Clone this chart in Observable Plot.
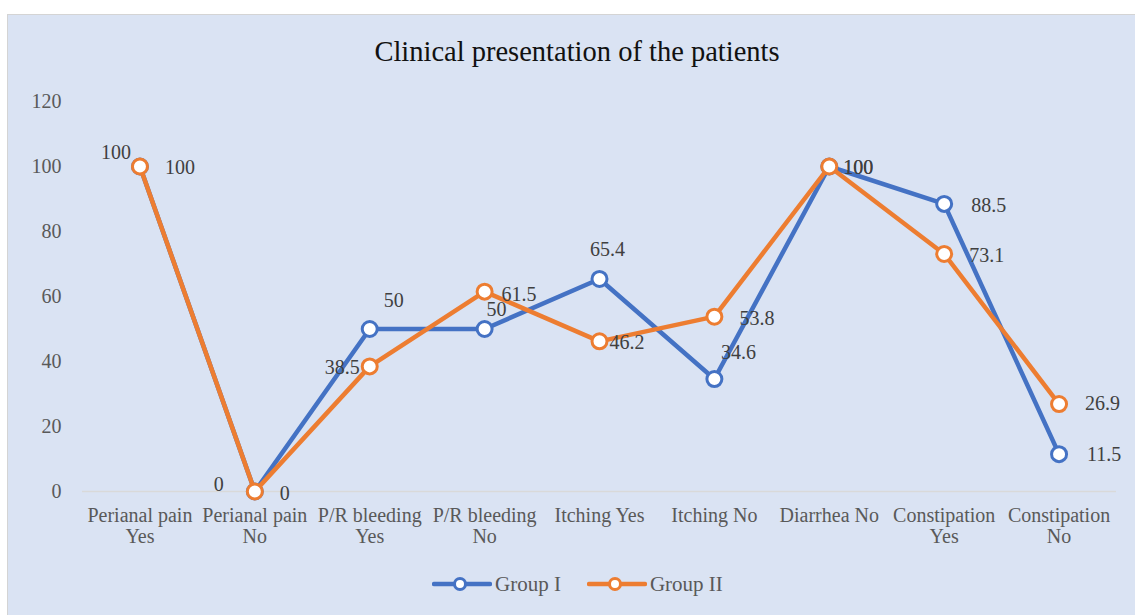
<!DOCTYPE html>
<html>
<head>
<meta charset="utf-8">
<script src="https://cdn.jsdelivr.net/npm/d3@7"></script>
<script src="https://cdn.jsdelivr.net/npm/@observablehq/plot@0.6"></script>
<style>
  html, body { margin: 0; padding: 0; background: #ffffff; width: 1135px; height: 615px; overflow: hidden; }
  body { position: relative; font-family: "Liberation Serif", "Times New Roman", serif; }
  #frame { position: absolute; left: 7px; top: 14px; width: 1140px; height: 620px; background: #dae3f3; border: 1px solid #d4d4d4; box-sizing: border-box; }
  #title { position: absolute; left: 0; width: 1154px; top: 36px; text-align: center; font-size: 28.5px; line-height: 32px; color: #111; }
  #chart { position: absolute; left: 0; top: 0; }
  #legend { position: absolute; left: 432px; top: 573px; display: flex; align-items: center; font-size: 21px; line-height: 22px; color: #595959; }
  .item { display: flex; align-items: center; margin-right: 26px; }
  .item svg { margin-right: 3px; }
</style>
</head>
<body>
<div id="frame"></div>
<div id="title">Clinical presentation of the patients</div>
<div id="chart"></div>
<div id="legend"></div>
<script>
const categories = ["Perianal pain Yes", "Perianal pain No", "P/R bleeding Yes", "P/R bleeding No", "Itching Yes", "Itching No", "Diarrhea No", "Constipation Yes", "Constipation No"];
const tickLabels = ["Perianal pain\nYes", "Perianal pain\nNo", "P/R bleeding\nYes", "P/R bleeding\nNo", "Itching Yes", "Itching No", "Diarrhea No", "Constipation\nYes", "Constipation\nNo"];
const seriesNames = ["Group I", "Group II"];
const group1 = [100, 0, 50, 50, 65.4, 34.6, 100, 88.5, 11.5];
const group2 = [100, 0, 38.5, 61.5, 46.2, 53.8, 100, 73.1, 26.9];
const yTicks = [0, 20, 40, 60, 80, 100, 120];
const colors = ["#4472c4", "#ed7d31"];

// label placement (dx, dy, anchor) per point, mimicking the source chart
const g1Place = [[-24,-14,"middle"],[-36,-7,"middle"],[24,-28,"middle"],[12,-19,"middle"],[8,-29,"middle"],[24,-26,"middle"],[14,1,"start"],[27,2,"start"],[28,0,"start"]];
const g2Place = [[25,1,"start"],[25,2,"start"],[-10,1,"end"],[17,3,"start"],[10,1,"start"],[25,2,"start"],[14,1,"start"],[25,2,"start"],[26,0,"start"]];

const rows = [];
[group1, group2].forEach((vals, s) => vals.forEach((v, i) => rows.push({series: seriesNames[s], cat: categories[i], value: v, idx: i})));
const tickMap = new Map(categories.map((c, i) => [c, tickLabels[i]]));

const font = "Liberation Serif, Times New Roman, serif";
const marks = [
  Plot.ruleY([0], {stroke: "#d9d9d9", strokeWidth: 1.5}),
  Plot.axisY({ticks: yTicks, tickSize: 0, tickPadding: 21, fontSize: 20, fill: "#595959", label: null}),
  Plot.axisX({tickSize: 0, tickPadding: 16, fontSize: 20, fill: "#595959", label: null, lineHeight: 1.05, tickFormat: d => tickMap.get(d)})
];
seriesNames.forEach((name, s) => {
  const data = rows.filter(r => r.series === name);
  marks.push(Plot.line(data, {x: "cat", y: "value", stroke: colors[s], strokeWidth: 4.5, strokeLinejoin: "round", strokeLinecap: "round"}));
  marks.push(Plot.dot(data, {x: "cat", y: "value", r: 7.5, fill: "white", stroke: colors[s], strokeWidth: 3}));
});
seriesNames.forEach((name, s) => {
  const place = s === 0 ? g1Place : g2Place;
  rows.filter(r => r.series === name).forEach(r => {
    const [dx, dy, anchor] = place[r.idx];
    marks.push(Plot.text([r], {x: "cat", y: "value", text: d => String(d.value), dx, dy, textAnchor: anchor, fontSize: 20, fill: "#404040", fontFamily: font}));
  });
});

const chart = Plot.plot({
  width: 1135,
  height: 615,
  marginLeft: 82,
  marginRight: 19,
  marginTop: 101,
  marginBottom: 124,
  style: {background: "transparent", fontFamily: font, overflow: "visible"},
  x: {type: "point", domain: categories, padding: 0.5, round: false},
  y: {domain: [0, 120]},
  marks
});
document.getElementById("chart").appendChild(chart);

const legend = document.getElementById("legend");
seriesNames.forEach((name, s) => {
  const item = document.createElement("div");
  item.className = "item";
  item.innerHTML = `<svg width="60" height="16"><line x1="2" y1="8" x2="58" y2="8" stroke="${colors[s]}" stroke-width="4.5" stroke-linecap="round"/><circle cx="28" cy="8" r="5.5" fill="white" stroke="${colors[s]}" stroke-width="3"/></svg><span>${name}</span>`;
  legend.appendChild(item);
});
</script>
</body>
</html>
